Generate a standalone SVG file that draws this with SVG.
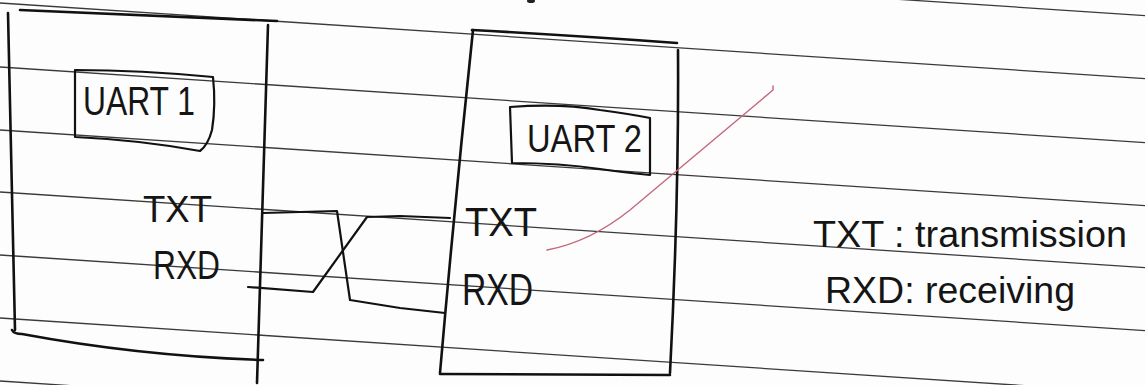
<svg xmlns="http://www.w3.org/2000/svg" width="1145" height="385" viewBox="0 0 1145 385">
  <style>
    .rule { stroke: #3a3a3a; stroke-width: 1.3; fill: none; }
    .pen { stroke: #111; stroke-width: 2.6; fill: none; stroke-linecap: round; stroke-linejoin: round; }
    .pen-thin { stroke: #111; stroke-width: 2.2; fill: none; stroke-linecap: round; stroke-linejoin: round; }
    .wire { stroke: #111; stroke-width: 2.2; fill: none; stroke-linecap: round; stroke-linejoin: round; }
    .red { stroke: #c4677a; stroke-width: 1.4; fill: none; stroke-linecap: round; }
    .hand { font-family: "Liberation Sans", "DejaVu Sans", sans-serif; fill: #151515; }
  </style>
  <rect x="0" y="0" width="1145" height="385" fill="#fdfdfd"/>

  <g id="paper">
    <line class="rule" x1="0" y1="-60" x2="1145" y2="15.6"/>
    <line class="rule" x1="0" y1="3" x2="1145" y2="78.6"/>
    <line class="rule" x1="0" y1="67" x2="1145" y2="142.6"/>
    <line class="rule" x1="0" y1="130" x2="1145" y2="205.6"/>
    <line class="rule" x1="0" y1="192" x2="1145" y2="267.6"/>
    <line class="rule" x1="0" y1="255" x2="1145" y2="330.6"/>
    <line class="rule" x1="0" y1="318" x2="1145" y2="393.6"/>
    <line class="rule" x1="0" y1="381" x2="1145" y2="456.6"/>
    <ellipse cx="531" cy="1" rx="4" ry="2" fill="#222"/>
  </g>

  <g id="uart1">
    <path class="pen" d="M20,10 L277,21"/>
    <path class="pen" d="M8,13 Q12,170 15,330"/>
    <path class="pen" d="M268,25 Q263,200 257,383"/>
    <path class="pen" d="M12,330 Q14,334 22,334 Q140,356 263,360"/>
    <path class="pen-thin" d="M75,70 Q140,70 213,77 Q216,105 212,130 Q208,145 200,151 Q140,140 75,137 Z"/>
    <text class="hand" x="83" y="115" font-size="40" textLength="112" lengthAdjust="spacingAndGlyphs">UART 1</text>
    <text class="hand" x="143" y="222" font-size="36" textLength="69" lengthAdjust="spacingAndGlyphs">TXT</text>
    <text class="hand" x="153" y="279" font-size="40" textLength="67" lengthAdjust="spacingAndGlyphs">RXD</text>
  </g>

  <g id="uart2">
    <path class="pen" d="M472,30 Q580,36 677,43"/>
    <path class="pen" d="M473,30 Q455,200 440,373"/>
    <path class="pen" d="M678,50 Q679,200 670,373"/>
    <path class="pen" d="M440,374 L670,375"/>
    <path class="pen-thin" d="M510,107 Q560,103 600,110 Q630,114 650,118 L650,175 Q620,172 600,169 Q560,163 512,163 Z"/>
    <text class="hand" x="527" y="152" font-size="38" textLength="115" lengthAdjust="spacingAndGlyphs">UART 2</text>
    <text class="hand" x="465" y="236" font-size="40" textLength="72" lengthAdjust="spacingAndGlyphs">TXT</text>
    <text class="hand" x="462" y="305" font-size="44" textLength="71" lengthAdjust="spacingAndGlyphs">RXD</text>
  </g>

  <g id="connectors">
    <path class="wire" d="M263,213 L337,211 L350,300 L400,308 L445,313"/>
    <path class="wire" d="M248,287 L313,292 L367,217 L400,216 L450,218"/>
  </g>

  <g id="annotation">
    <path class="red" d="M547,250 Q590,242 630,210 L773,90 L773,86"/>
  </g>

  <g id="legend">
    <text class="hand" x="813" y="247" font-size="36" textLength="314" lengthAdjust="spacingAndGlyphs">TXT : transmission</text>
    <text class="hand" x="825" y="303" font-size="36" textLength="250" lengthAdjust="spacingAndGlyphs">RXD: receiving</text>
  </g>
</svg>
